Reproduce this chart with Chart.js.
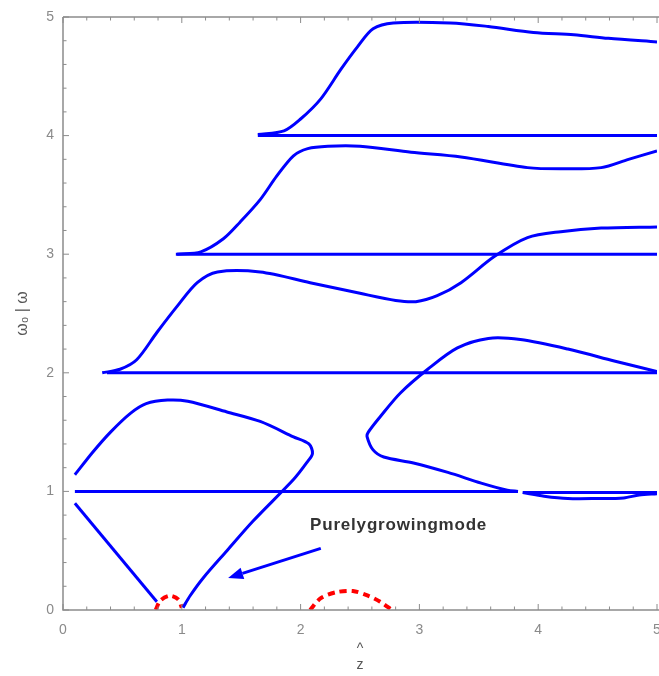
<!DOCTYPE html>
<html>
<head>
<meta charset="utf-8">
<script src="https://cdn.jsdelivr.net/npm/chart.js@4.4.1/dist/chart.umd.min.js"></script>
<style>
  html, body { margin: 0; padding: 0; background: #fff; }
  #wrap { width: 659px; height: 676px; position: relative; }
</style>
</head>
<body>
<div id="wrap"><canvas id="modes"></canvas></div>
<script>
// ── Dispersion branches ω/ω0 vs ẑ ─────────────────
const levels      = [1, 2, 3, 4];
const levelStart  = [0.10, 0.37, 0.95, 1.64];
const levelEnd    = [3.83, 5.0, 5.0, 5.0];
// y=1 line picks up again after a small break
const level1TailX = [3.87, 5.0];
const level1TailY = [0.99, 0.99];

const topX = [1.64, 1.86, 2.00, 2.17, 2.34, 2.48, 2.61, 2.78, 3.26, 3.58, 3.96, 4.30, 4.59, 5.00];
const topY = [4.01, 4.04, 4.14, 4.31, 4.56, 4.75, 4.90, 4.95, 4.95, 4.92, 4.87, 4.85, 4.82, 4.79];

const thirdX = [0.96, 1.16, 1.35, 1.49, 1.66, 1.80, 1.94, 2.06, 2.23, 2.50, 2.93, 3.35, 3.91, 4.19, 4.53, 4.76, 5.00];
const thirdY = [3.00, 3.02, 3.13, 3.27, 3.46, 3.66, 3.83, 3.89, 3.91, 3.91, 3.86, 3.82, 3.73, 3.72, 3.73, 3.80, 3.87];

const secondX = [0.33, 0.48, 0.62, 0.79, 0.96, 1.13, 1.30, 1.66, 2.08, 2.50, 2.80, 2.97, 3.15, 3.35, 3.63, 3.91, 4.19, 4.53, 5.00];
const secondY = [2.00, 2.03, 2.11, 2.34, 2.56, 2.76, 2.85, 2.85, 2.76, 2.67, 2.61, 2.60, 2.65, 2.76, 2.98, 3.14, 3.19, 3.22, 3.23];

const loopX = [5.00, 4.64, 4.25, 3.85, 3.58, 3.32, 3.07, 2.84, 2.67, 2.57, 2.56, 2.61, 2.70, 2.95, 3.24, 3.52, 3.74, 3.83];
const loopY = [2.01, 2.10, 2.20, 2.28, 2.29, 2.21, 2.03, 1.83, 1.63, 1.50, 1.46, 1.35, 1.29, 1.24, 1.16, 1.07, 1.01, 1.00];

const dipX = [3.87, 4.05, 4.25, 4.50, 4.72, 4.85, 5.00];
const dipY = [0.99, 0.96, 0.94, 0.94, 0.945, 0.97, 0.98];

const lowX = [0.10, 0.25, 0.40, 0.57, 0.70, 0.88, 1.05, 1.38, 1.66, 1.94, 2.07, 2.10, 2.05, 1.94, 1.60, 1.38, 1.18, 1.07, 1.01];
const lowY = [1.14, 1.33, 1.50, 1.66, 1.74, 1.77, 1.76, 1.67, 1.59, 1.46, 1.40, 1.32, 1.24, 1.10, 0.75, 0.50, 0.27, 0.12, 0.02];

const edgeX = [0.10, 0.79];
const edgeY = [0.90, 0.07];

// purely growing (imaginary) parts, dashed red
const growSmallX = [0.78, 0.82, 0.90, 0.97, 1.00];
const growSmallY = [0.00, 0.08, 0.12, 0.09, 0.02];
const growBigX   = [2.08, 2.17, 2.30, 2.44, 2.57, 2.67, 2.77];
const growBigY   = [0.00, 0.10, 0.15, 0.16, 0.12, 0.07, 0.00];

const xTicks = [0, 1, 2, 3, 4, 5];
const yTicks = [0, 1, 2, 3, 4, 5];

const noteText  = 'Purelygrowingmode';
const notePos   = [2.08, 0.71];
const arrowFrom = [2.17, 0.52];
const arrowTo   = [1.39, 0.27];

const BLUE = '#0000FF';
const RED  = '#FF0000';
const FRAME = '#8c8c8c';
const FONT = 'Arial, "Liberation Sans", sans-serif';

const pts = (xs, ys) => xs.map((x, i) => ({ x, y: ys[i] }));

function curve(xs, ys, extra = {}) {
  return { data: pts(xs, ys), borderColor: BLUE, borderWidth: 3, tension: 0.3, ...extra };
}

const datasets = [
  ...levels.map((lv, i) => curve([levelStart[i], levelEnd[i]], [lv, lv], { tension: 0 })),
  curve(level1TailX, level1TailY, { tension: 0 }),
  curve(topX, topY),
  curve(thirdX, thirdY),
  curve(secondX, secondY),
  curve(loopX, loopY),
  curve(dipX, dipY),
  curve(lowX, lowY),
  curve(edgeX, edgeY, { tension: 0 }),
  curve(growSmallX, growSmallY, { borderColor: RED, borderWidth: 4, borderDash: [7, 5] }),
  curve(growBigX, growBigY, { borderColor: RED, borderWidth: 4, borderDash: [7, 5] }),
];

// frame with inward major/minor ticks
const frameTicks = {
  id: 'frameTicks',
  afterDraw(chart) {
    const { ctx, chartArea: a, scales: { x, y } } = chart;
    ctx.save();
    ctx.strokeStyle = FRAME;
    ctx.lineWidth = 1.5;
    ctx.beginPath();
    ctx.moveTo(a.left, a.top); ctx.lineTo(a.left, a.bottom); ctx.lineTo(a.right + 2, a.bottom);
    ctx.moveTo(a.left, a.top); ctx.lineTo(a.right + 2, a.top);
    ctx.stroke();
    ctx.lineWidth = 1;
    ctx.beginPath();
    for (let v = 0; v <= 5.001; v += 0.2) {
      const major = Math.abs(v - Math.round(v)) < 1e-6;
      const len = major ? 6 : 3.5;
      const px = x.getPixelForValue(v);
      ctx.moveTo(px, a.bottom); ctx.lineTo(px, a.bottom - len);
      ctx.moveTo(px, a.top); ctx.lineTo(px, a.top + len);
      const py = y.getPixelForValue(v);
      ctx.moveTo(a.left, py); ctx.lineTo(a.left + len, py);
    }
    ctx.stroke();
    ctx.restore();
  },
};

// annotation label and arrow
const note = {
  id: 'note',
  afterDatasetsDraw(chart) {
    const { ctx, scales: { x, y } } = chart;
    ctx.save();
    ctx.font = 'bold 17px ' + FONT;
    ctx.letterSpacing = '0.8px';
    ctx.fillStyle = '#333';
    ctx.textBaseline = 'middle';
    ctx.fillText(noteText, x.getPixelForValue(notePos[0]), y.getPixelForValue(notePos[1]));
    ctx.letterSpacing = '0px';

    const x0 = x.getPixelForValue(arrowFrom[0]), y0 = y.getPixelForValue(arrowFrom[1]);
    const x1 = x.getPixelForValue(arrowTo[0]),   y1 = y.getPixelForValue(arrowTo[1]);
    const ang = Math.atan2(y1 - y0, x1 - x0);
    const head = 15, half = 6;
    const bx = x1 - head * Math.cos(ang), by = y1 - head * Math.sin(ang);
    ctx.strokeStyle = BLUE;
    ctx.fillStyle = BLUE;
    ctx.lineWidth = 3;
    ctx.beginPath();
    ctx.moveTo(x0, y0); ctx.lineTo(bx, by);
    ctx.stroke();
    ctx.beginPath();
    ctx.moveTo(x1, y1);
    ctx.lineTo(bx + half * Math.sin(ang), by - half * Math.cos(ang));
    ctx.lineTo(bx - half * Math.sin(ang), by + half * Math.cos(ang));
    ctx.closePath();
    ctx.fill();
    ctx.restore();
  },
};

new Chart(document.getElementById('modes'), {
  type: 'scatter',
  data: { datasets },
  plugins: [frameTicks, note],
  options: {
    responsive: true,
    maintainAspectRatio: false,
    animation: false,
    showLine: true,
    elements: { point: { radius: 0, hoverRadius: 0 } },
    layout: { padding: { top: 17, right: 2, left: 0, bottom: 0 } },
    plugins: { legend: { display: false }, tooltip: { enabled: false } },
    scales: {
      x: {
        type: 'linear', min: 0, max: 5,
        afterBuildTicks: s => { s.ticks = xTicks.map(v => ({ value: v })); },
        afterFit: s => { s.height = 66; s.paddingLeft = 0; s.paddingRight = 0; },
        grid: { display: false }, border: { display: false },
        ticks: { color: '#8a8a8a', font: { size: 14, family: FONT }, padding: 4, maxRotation: 0 },
        title: { display: true, text: ['^', 'z'], color: '#555', font: { size: 14, family: FONT }, padding: { top: 0, bottom: 2 }, lineHeight: 0.9 },
      },
      y: {
        type: 'linear', min: 0, max: 5,
        afterBuildTicks: s => { s.ticks = yTicks.map(v => ({ value: v })); },
        afterFit: s => { s.width = 63; s.paddingTop = 0; s.paddingBottom = 0; },
        grid: { display: false }, border: { display: false },
        ticks: { color: '#8a8a8a', font: { size: 14, family: FONT }, padding: 1 },
        title: { display: true, text: 'ω₀ | ω', color: '#555', font: { size: 16, family: FONT }, padding: { top: 13, bottom: 0 } },
      },
    },
  },
});
</script>
</body>
</html>
